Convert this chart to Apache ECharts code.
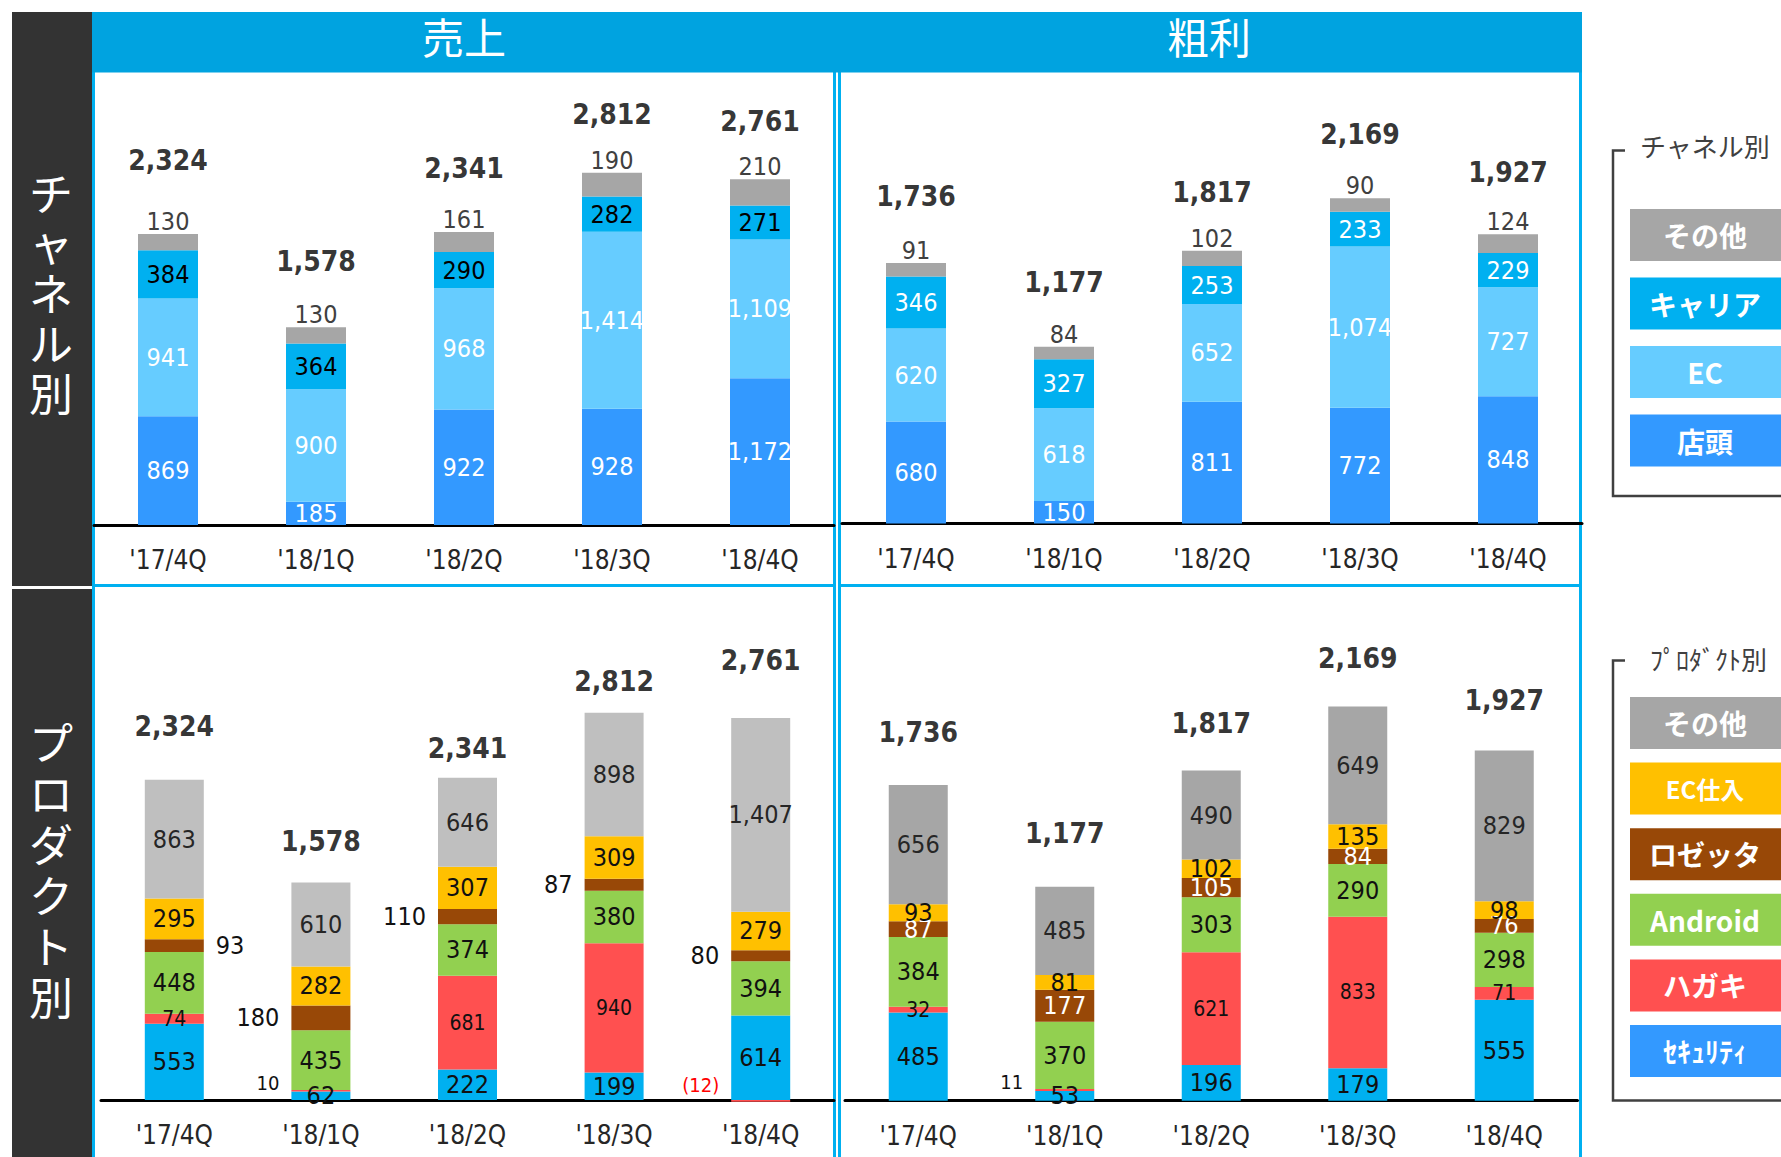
<!DOCTYPE html>
<html>
<head>
<meta charset="utf-8">
<title>売上・粗利 チャネル別 / プロダクト別</title>
<script src="https://cdn.jsdelivr.net/npm/echarts@6/dist/echarts.min.js"></script>
<style>
  html, body { margin: 0; padding: 0; background: #fff; }
  #chart { width: 1781px; height: 1157px; }
</style>
</head>
<body>
<div id="chart"></div>
<script>
const quarters = ["'17/4Q", "'18/1Q", "'18/2Q", "'18/3Q", "'18/4Q"];

// 売上 チャネル別
const salesStore = [869, 185, 922, 928, 1172];
const salesEc = [941, 900, 968, 1414, 1109];
const salesCarrier = [384, 364, 290, 282, 271];
const salesOther = [130, 130, 161, 190, 210];
const salesTotal = [2324, 1578, 2341, 2812, 2761];

// 粗利 チャネル別
const profitStore = [680, 150, 811, 772, 848];
const profitEc = [620, 618, 652, 1074, 727];
const profitCarrier = [346, 327, 253, 233, 229];
const profitOther = [91, 84, 102, 90, 124];
const profitTotal = [1736, 1177, 1817, 2169, 1927];

// 売上 プロダクト別
const salesSecurity = [553, 62, 222, 199, 614];
const salesPostcard = [74, 10, 681, 940, -12];
const salesAndroid = [448, 435, 374, 380, 394];
const salesRozetta = [93, 180, 110, 87, 80];
const salesEcBuy = [295, 282, 307, 309, 279];
const salesProdOther = [863, 610, 646, 898, 1407];

// 粗利 プロダクト別
const profitSecurity = [485, 53, 196, 179, 555];
const profitPostcard = [32, 11, 621, 833, 71];
const profitAndroid = [384, 370, 303, 290, 298];
const profitRozetta = [87, 177, 105, 84, 76];
const profitEcBuy = [93, 81, 102, 135, 98];
const profitProdOther = [656, 485, 490, 649, 829];

const channelNames = ["その他", "キャリア", "EC", "店頭"];
const productNames = ["その他", "EC仕入", "ロゼッタ", "Android", "ハガキ", "ｾｷｭﾘﾃｨ"];

// 合計ラベルの上下の微調整 (px)
const totalNudge = [
  [-12, -4, -1, 4, 4],
  [-6, -3, 3, -3, -1],
  [-12, 0, 12, 10, -18],
  [-4, -4, 2, 1, -1]
];

const NUM_FONT = '"DejaVu Sans Condensed", "Liberation Sans Narrow", "DejaVu Sans", sans-serif';
const JP_FONT = '"Noto Sans CJK JP", sans-serif';

const C = {
  store: "#3399ff",
  ec: "#66ccff",
  carrier: "#00b0f0",
  other: "#a6a6a6",
  otherLight: "#bfbfbf",
  security: "#00b0f0",
  postcard: "#ff5050",
  android: "#92d050",
  rozetta: "#984807",
  ecBuy: "#ffc000",
  frame: "#00b0f0",
  header: "#00a3e0",
  side: "#333333"
};

function fmt(v) {
  return v < 0 ? "(" + (-v) + ")" : v.toLocaleString("en-US");
}

function bar(idx, name, values, color, labelColor, labelSize) {
  return {
    type: "bar",
    name: name,
    xAxisIndex: idx,
    yAxisIndex: idx,
    stack: "s" + idx,
    barWidth: idx < 2 ? 60 : 59,
    clip: false,
    data: values,
    itemStyle: { color: color },
    label: {
      show: true,
      position: "inside",
      color: labelColor,
      fontFamily: NUM_FONT,
      fontSize: labelSize || 25,
      formatter: p => fmt(p.value)
    }
  };
}

// 小さい区分のラベルは棒の外側へ
function outside(values, sideOf, extra) {
  return values.map((v, i) => {
    const side = sideOf(i, v);
    if (!side) return v;
    return { value: v, label: Object.assign({ position: side, distance: 12 }, extra ? extra(i, v) : {}) };
  });
}

function totals(idx, values, dist) {
  return {
    type: "scatter",
    xAxisIndex: idx,
    yAxisIndex: idx,
    symbolSize: 0,
    silent: true,
    itemStyle: { color: "transparent" },
    data: values.map((v, i) => ({ value: v, label: { offset: [0, totalNudge[idx][i]] } })),
    z: 5,
    label: {
      show: true,
      position: "top",
      distance: dist,
      color: "#000",
      fontFamily: NUM_FONT,
      fontWeight: "bold",
      fontSize: 28,
      formatter: p => fmt(p.value)
    }
  };
}

function otherTop(idx, values) {
  const s = bar(idx, "その他", values, C.other, "#404040", 25);
  s.label.position = "top";
  s.label.distance = 0;
  return s;
}

const grids = [
  { left: 94, top: 149.4, width: 740, height: 375.6 },
  { left: 842, top: 148.5, width: 740, height: 375 },
  { left: 101, top: 686.9, width: 733, height: 413.1 },
  { left: 845, top: 664.6, width: 732.5, height: 436.1 }
].map(g => Object.assign({ outerBoundsMode: "none", containLabel: false }, g));
const yMax = [3000, 2500, 3000, 2400];

const series = [
  bar(0, "店頭", salesStore, C.store, "#fff"),
  bar(0, "EC", salesEc, C.ec, "#fff"),
  bar(0, "キャリア", salesCarrier, C.carrier, "#000"),
  otherTop(0, salesOther),
  totals(0, salesTotal, 48),

  bar(1, "店頭", profitStore, C.store, "#fff"),
  bar(1, "EC", profitEc, C.ec, "#fff"),
  bar(1, "キャリア", profitCarrier, C.carrier, "#fff"),
  otherTop(1, profitOther),
  totals(1, profitTotal, 47),

  bar(2, "ｾｷｭﾘﾃｨ", salesSecurity, C.security, "#111"),
  bar(2, "ハガキ", outside(salesPostcard, (i, v) => (i === 1 || v < 0) ? "left" : null,
    (i, v) => v < 0 ? { color: "#ff0000", fontSize: 20, offset: [0, -16] } : { fontSize: 20, offset: [0, -8] }),
    C.postcard, "#111", 21),
  bar(2, "Android", salesAndroid, C.android, "#111"),
  bar(2, "ロゼッタ", outside(salesRozetta, i => i === 0 ? "right" : "left"), C.rozetta, "#111"),
  bar(2, "EC仕入", salesEcBuy, C.ecBuy, "#111"),
  bar(2, "その他", salesProdOther, C.otherLight, "#262626"),
  totals(2, salesTotal, 27),

  bar(3, "ｾｷｭﾘﾃｨ", profitSecurity, C.security, "#111"),
  bar(3, "ハガキ", outside(profitPostcard, i => i === 1 ? "left" : null,
    () => ({ fontSize: 20, offset: [0, -8] })), C.postcard, "#111", 21),
  bar(3, "Android", profitAndroid, C.android, "#111"),
  bar(3, "ロゼッタ", profitRozetta, C.rozetta, "#fff"),
  bar(3, "EC仕入", profitEcBuy, C.ecBuy, "#111"),
  bar(3, "その他", profitProdOther, C.other, "#262626"),
  totals(3, profitTotal, 35)
];

function legendBlock(title, titleX, titleY, names, colors, firstTop, step, frameTop, frameBottom) {
  const els = [
    {
      type: "polyline",
      shape: { points: [[1625, frameTop], [1613, frameTop], [1613, frameBottom], [1781, frameBottom]] },
      style: { stroke: "#404040", lineWidth: 2.5, fill: null }
    },
    {
      type: "text", x: titleX, y: titleY,
      style: { text: title, fill: "#404040", font: '26px ' + JP_FONT, align: "left", verticalAlign: "middle" }
    }
  ];
  names.forEach((n, i) => {
    const y = firstTop + i * step;
    els.push({ type: "rect", shape: { x: 1630, y: y, width: 160, height: 52 }, style: { fill: colors[i] } });
    els.push({
      type: "text", x: 1705, y: y + 26,
      style: { text: n, fill: "#fff", font: 'bold ' + (n === "EC仕入" ? 24 : 28) + 'px ' + JP_FONT, align: "center", verticalAlign: "middle" }
    });
  });
  return els;
}

const graphic = [
  { type: "rect", shape: { x: 12, y: 12, width: 80, height: 574 }, style: { fill: C.side } },
  { type: "rect", shape: { x: 12, y: 589, width: 80, height: 568 }, style: { fill: C.side } },
  {
    type: "text", x: 51, y: 292,
    style: { text: "チ\nャ\nネ\nル\n別", fill: "#fff", font: '44px ' + JP_FONT, align: "center", verticalAlign: "middle", lineHeight: 50 }
  },
  {
    type: "text", x: 51, y: 868,
    style: { text: "プ\nロ\nダ\nク\nト\n別", fill: "#fff", font: '44px ' + JP_FONT, align: "center", verticalAlign: "middle", lineHeight: 51 }
  },
  { type: "rect", shape: { x: 93.5, y: 70, width: 741, height: 515.5 }, style: { fill: null, stroke: C.frame, lineWidth: 3 } },
  { type: "rect", shape: { x: 839.5, y: 70, width: 741, height: 515.5 }, style: { fill: null, stroke: C.frame, lineWidth: 3 } },
  { type: "rect", shape: { x: 93.5, y: 585.5, width: 741, height: 600 }, style: { fill: null, stroke: C.frame, lineWidth: 3 } },
  { type: "rect", shape: { x: 839.5, y: 585.5, width: 741, height: 600 }, style: { fill: null, stroke: C.frame, lineWidth: 3 } },
  { type: "rect", shape: { x: 92, y: 12, width: 1490, height: 60.5 }, style: { fill: C.header } },
  { type: "text", x: 464, y: 35, style: { text: "売上", fill: "#fff", font: '42px ' + JP_FONT, align: "center", verticalAlign: "middle" } },
  { type: "text", x: 1209, y: 35, style: { text: "粗利", fill: "#fff", font: '42px ' + JP_FONT, align: "center", verticalAlign: "middle" } }
].concat(
  legendBlock("チャネル別", 1640, 145.5, channelNames, [C.other, C.carrier, C.ec, C.store], 209, 68.5, 150.5, 496),
  legendBlock("ﾌﾟﾛﾀﾞｸﾄ別", 1650, 658, productNames, [C.other, C.ecBuy, C.rozetta, C.android, C.postcard, "#3399ff"], 697, 65.6, 660.5, 1100.5)
);

const chart = echarts.init(document.getElementById("chart"), null, { renderer: "svg" });
chart.setOption({
  animation: false,
  backgroundColor: "#fff",
  grid: grids,
  xAxis: grids.map((g, i) => ({
    type: "category",
    gridIndex: i,
    data: quarters,
    axisTick: { show: false },
    axisLine: { lineStyle: { color: "#000", width: 3 } },
    axisLabel: { color: "#262626", fontFamily: NUM_FONT, fontSize: 26, margin: 22 }
  })),
  yAxis: grids.map((g, i) => ({
    type: "value",
    gridIndex: i,
    min: 0,
    max: yMax[i],
    show: false
  })),
  graphic: graphic,
  series: series
});
</script>
</body>
</html>
